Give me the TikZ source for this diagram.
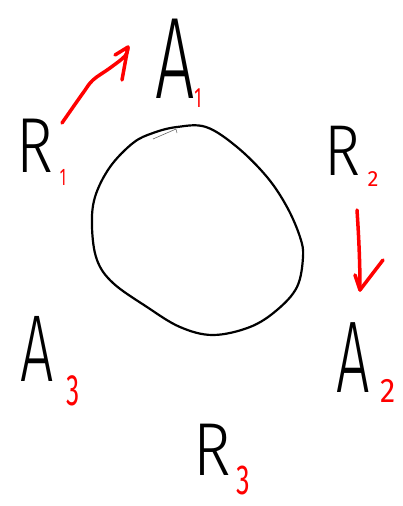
\documentclass[tikz,border=0pt]{standalone}
\usepackage{fontspec}
\setmainfont{Fira Sans}[UprightFont={* Light}]
\newfontfamily\digitfont{Fira Sans}
\begin{document}
\begin{tikzpicture}[x=1pt,y=-1pt,
  letter/.style={anchor=base,inner sep=0pt,text=black,font=\fontsize{#1}{#1}\selectfont},
  idx/.style={anchor=base,inner sep=0pt,text=red,font=\digitfont\fontsize{#1}{#1}\selectfont},
  redarrow/.style={draw=red,line width=3.5pt,line cap=round,line join=round},
  blob/.style={draw=black,line width=2.2pt}]
\useasboundingbox (0,0) rectangle (402,506);
% letters
\node[letter=116,xscale=0.6] (A1) at (175,98) {A};
\node[idx=28,xscale=0.6] (a1) at (198,107) {1};
\node[letter=78,xscale=0.8] (R1) at (35,172) {R};
\node[idx=24,xscale=0.6] (r1) at (63,185) {1};
\node[letter=72,xscale=0.85] (R2) at (343,175) {R};
\node[idx=22] (r2) at (373,186) {2};
\node[letter=102,xscale=0.58] (A2) at (353,392) {A};
\node[idx=34,xscale=0.9] (a2) at (388,402) {2};
\node[letter=95,xscale=0.62] (A3) at (37,381) {A};
\node[idx=44,xscale=0.6] (a3) at (73,405) {3};
\node[letter=75,xscale=0.85] (R3) at (212,475) {R};
\node[idx=42,xscale=0.65] (r3) at (243,494) {3};
% blob
\draw[blob] plot[smooth cycle,tension=0.6] coordinates {
 (177,127) (206,127) (237,147) (267,177) (287,207) (300,237) (303,257)
 (297,287) (277,310) (250,327) (213,335) (180,327) (147,307) (113,283)
 (97,260) (92,227) (95,197) (110,167) (133,143) (153,133)};
\draw[black!60,line width=0.6pt] (153,139) -- (176,129) -- (177,133);
% arrow R1 -> A1
\coordinate (s1) at (62,123);
\coordinate (t1) at (128,47);
\path[redarrow] plot[smooth,tension=0.6] coordinates {(s1) (83,93) (93,80) (110,68) (125,56) (t1)};
\path[redarrow] (115,55) -- (t1) -- (122,80);
% arrow R2 -> A2
\coordinate (s2) at (357,210);
\coordinate (t2) at (360,290);
\path[redarrow] (s2) .. controls (359,240) and (360,265) .. (t2);
\path[redarrow] (355,275) -- (t2) -- (383,260);
\end{tikzpicture}
\end{document}
